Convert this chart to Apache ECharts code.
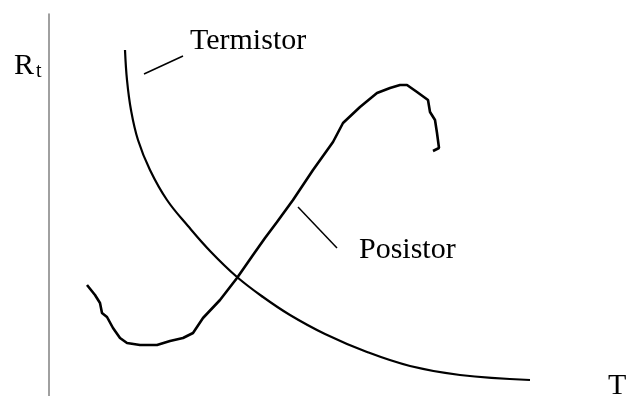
<!DOCTYPE html>
<html>
<head>
<meta charset="utf-8">
<script src="https://cdn.jsdelivr.net/npm/echarts@6/dist/echarts.min.js"></script>
<style>
  html, body { margin: 0; padding: 0; background: #fff; }
  #chart { width: 626px; height: 396px; }
</style>
</head>
<body>
<div id="chart"></div>
<script>
// temperature (x) / resistance (y) in arbitrary units
var termistorT = [15.2, 15.6, 16.4, 17.8, 20.2, 23.6, 27.8, 32.4, 37.6, 42.8, 48.2, 55.2, 63.6, 72.2, 82.2, 96.2];
var termistorR = [69.2, 63.2, 57.2, 51.2, 45.2, 39.2, 34, 28.8, 23.8, 19.8, 16.2, 12.4, 8.8, 6, 4.2, 3.2];

var posistorT = [7.6, 9.2, 10.2, 10.6, 11.6, 12.8, 14.2, 15.6, 18.2, 21.6, 24.2, 26.8, 28.8, 30.8, 34.2, 37.6,
                 40.8, 43.2, 45.6, 48.8, 52.8, 56.8, 58.8, 62.2, 65.6, 68.2, 70.2, 71.6, 73.6, 75.8, 76.2, 77.2, 77.6, 78, 76.8];
var posistorR = [22.2, 20.2, 18.6, 16.6, 15.8, 13.6, 11.6, 10.6, 10.2, 10.2, 11, 11.6, 12.6, 15.6, 19.2, 23.6,
                 28.2, 31.6, 34.8, 39.2, 45.2, 50.8, 54.6, 57.8, 60.6, 61.6, 62.2, 62.2, 60.8, 59.2, 56.8, 55.2, 52.6, 49.6, 49];

// leader lines from the labels to the curves
var termLeaderT = [19, 26.8];
var termLeaderR = [64.4, 68];
var posLeaderT = [49.8, 57.6];
var posLeaderR = [37.8, 29.6];

function pairs(xs, ys) {
    return xs.map(function (x, i) { return [x, ys[i]]; });
}

var myChart = echarts.init(document.getElementById('chart'));
var serif = '"Liberation Serif", "DejaVu Serif", serif';

var option = {
    animation: false,
    grid: { left: 49, right: 27, top: 14, bottom: 0 },
    xAxis: {
        type: 'value', min: 0, max: 110,
        axisLine: { show: false }, axisTick: { show: false },
        axisLabel: { show: false }, splitLine: { show: false }
    },
    yAxis: {
        type: 'value', min: 0, max: 76.4,
        axisLine: { show: true, lineStyle: { color: '#808080', width: 1.5 } },
        axisTick: { show: false }, axisLabel: { show: false }, splitLine: { show: false }
    },
    series: [
        {
            name: 'Termistor', type: 'line', smooth: 0.4, symbol: 'none',
            lineStyle: { color: '#000', width: 2.2 },
            data: pairs(termistorT, termistorR)
        },
        {
            name: 'Posistor', type: 'line', symbol: 'none',
            lineStyle: { color: '#000', width: 2.6 },
            data: pairs(posistorT, posistorR)
        },
        {
            type: 'line', symbol: 'none', lineStyle: { color: '#000', width: 1.5 },
            data: pairs(termLeaderT, termLeaderR)
        },
        {
            type: 'line', symbol: 'none', lineStyle: { color: '#000', width: 1.5 },
            data: pairs(posLeaderT, posLeaderR)
        }
    ],
    graphic: [
        { type: 'text', left: 14, top: 51, style: { text: 'R', font: '30px ' + serif, fill: '#000' } },
        { type: 'text', left: 36, top: 62, style: { text: 't', font: '20px ' + serif, fill: '#000' } },
        { type: 'text', left: 190, top: 26, style: { text: 'Termistor', font: '30px ' + serif, fill: '#000' } },
        { type: 'text', left: 359, top: 235, style: { text: 'Posistor', font: '30px ' + serif, fill: '#000' } },
        { type: 'text', left: 608, top: 371, style: { text: 'T', font: '30px ' + serif, fill: '#000' } }
    ]
};

myChart.setOption(option);
</script>
</body>
</html>
